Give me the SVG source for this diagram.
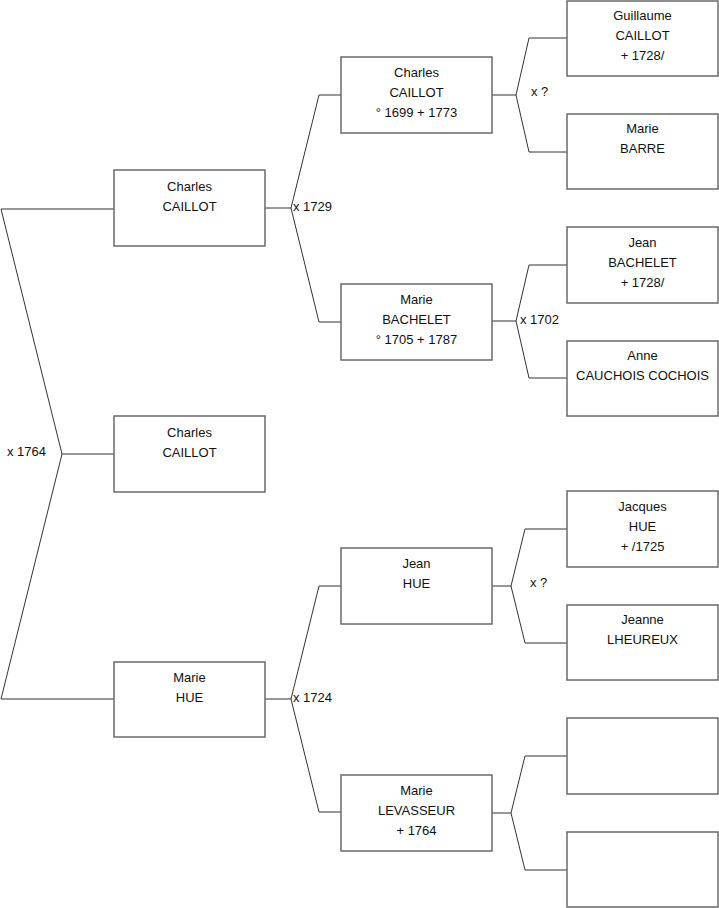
<svg xmlns="http://www.w3.org/2000/svg" width="719" height="908" viewBox="0 0 719 908">
<style>
.box{fill:#fff;stroke:#6a6a6a;stroke-width:1.5}
.t{font-family:"Liberation Sans",Arial,sans-serif;font-size:13px;fill:#111;text-anchor:middle}
.l{font-family:"Liberation Sans",Arial,sans-serif;font-size:13px;fill:#111}
.c{fill:none;stroke:#333;stroke-width:1}
</style>
<rect width="719" height="908" fill="#fff"/>
<g id="connectors" class="c">
<polyline points="114,209 1,209 62,454 1,699 114,699"/>
<line x1="62" y1="454" x2="114" y2="454"/>
<polyline points="265,208 291,208"/>
<polyline points="341,95 319,95 291,208 319,322 341,322"/>
<polyline points="265,699 291,699"/>
<polyline points="341,586 319,586 291,699 319,812 341,812"/>
<polyline points="492,95 516,95"/>
<polyline points="567,38 529,38 516,95 529,152 567,152"/>
<polyline points="492,321 516,321"/>
<polyline points="567,265 529,265 516,321 529,378 567,378"/>
<polyline points="492,586 511,586"/>
<polyline points="567,529 525,529 511,586 525,643 567,643"/>
<polyline points="492,813 511,813"/>
<polyline points="567,756 525,756 511,813 525,870 567,870"/>
</g>
<g id="labels">
<text class="l" x="7" y="456">x 1764</text>
<text class="l" x="293" y="211">x 1729</text>
<text class="l" x="293" y="702">x 1724</text>
<text class="l" x="531" y="96">x ?</text>
<text class="l" x="520" y="324">x 1702</text>
<text class="l" x="530" y="587">x ?</text>
</g>
<g id="n1">
<rect class="box" x="114" y="170" width="151" height="76"/>
<text class="t" x="189.5" y="191">Charles</text>
<text class="t" x="189.5" y="211">CAILLOT</text>
</g>
<g id="n0">
<rect class="box" x="114" y="416" width="151" height="76"/>
<text class="t" x="189.5" y="437">Charles</text>
<text class="t" x="189.5" y="457">CAILLOT</text>
</g>
<g id="n2">
<rect class="box" x="114" y="662" width="151" height="75"/>
<text class="t" x="189.5" y="682">Marie</text>
<text class="t" x="189.5" y="702">HUE</text>
</g>
<g id="n3">
<rect class="box" x="341" y="57" width="151" height="76"/>
<text class="t" x="416.5" y="77">Charles</text>
<text class="t" x="416.5" y="97">CAILLOT</text>
<text class="t" x="416.5" y="117">° 1699 + 1773</text>
</g>
<g id="n4">
<rect class="box" x="341" y="284" width="151" height="76"/>
<text class="t" x="416.5" y="304">Marie</text>
<text class="t" x="416.5" y="324">BACHELET</text>
<text class="t" x="416.5" y="344">° 1705 + 1787</text>
</g>
<g id="n5">
<rect class="box" x="341" y="548" width="151" height="76"/>
<text class="t" x="416.5" y="568">Jean</text>
<text class="t" x="416.5" y="588">HUE</text>
</g>
<g id="n6">
<rect class="box" x="341" y="775" width="151" height="76"/>
<text class="t" x="416.5" y="795">Marie</text>
<text class="t" x="416.5" y="815">LEVASSEUR</text>
<text class="t" x="416.5" y="835">+ 1764</text>
</g>
<g id="n7">
<rect class="box" x="567" y="1" width="151" height="75"/>
<text class="t" x="642.5" y="20">Guillaume</text>
<text class="t" x="642.5" y="40">CAILLOT</text>
<text class="t" x="642.5" y="60">+ 1728/</text>
</g>
<g id="n8">
<rect class="box" x="567" y="114" width="151" height="75"/>
<text class="t" x="642.5" y="133">Marie</text>
<text class="t" x="642.5" y="153">BARRE</text>
</g>
<g id="n9">
<rect class="box" x="567" y="227" width="151" height="76"/>
<text class="t" x="642.5" y="247">Jean</text>
<text class="t" x="642.5" y="267">BACHELET</text>
<text class="t" x="642.5" y="287">+ 1728/</text>
</g>
<g id="n10">
<rect class="box" x="567" y="341" width="151" height="75"/>
<text class="t" x="642.5" y="360">Anne</text>
<text class="t" x="642.5" y="380">CAUCHOIS COCHOIS</text>
</g>
<g id="n11">
<rect class="box" x="567" y="491" width="151" height="76"/>
<text class="t" x="642.5" y="511">Jacques</text>
<text class="t" x="642.5" y="531">HUE</text>
<text class="t" x="642.5" y="551">+ /1725</text>
</g>
<g id="n12">
<rect class="box" x="567" y="605" width="151" height="75"/>
<text class="t" x="642.5" y="624">Jeanne</text>
<text class="t" x="642.5" y="644">LHEUREUX</text>
</g>
<g id="n13">
<rect class="box" x="567" y="718" width="151" height="76"/>
</g>
<g id="n14">
<rect class="box" x="567" y="832" width="151" height="75"/>
</g>
</svg>
